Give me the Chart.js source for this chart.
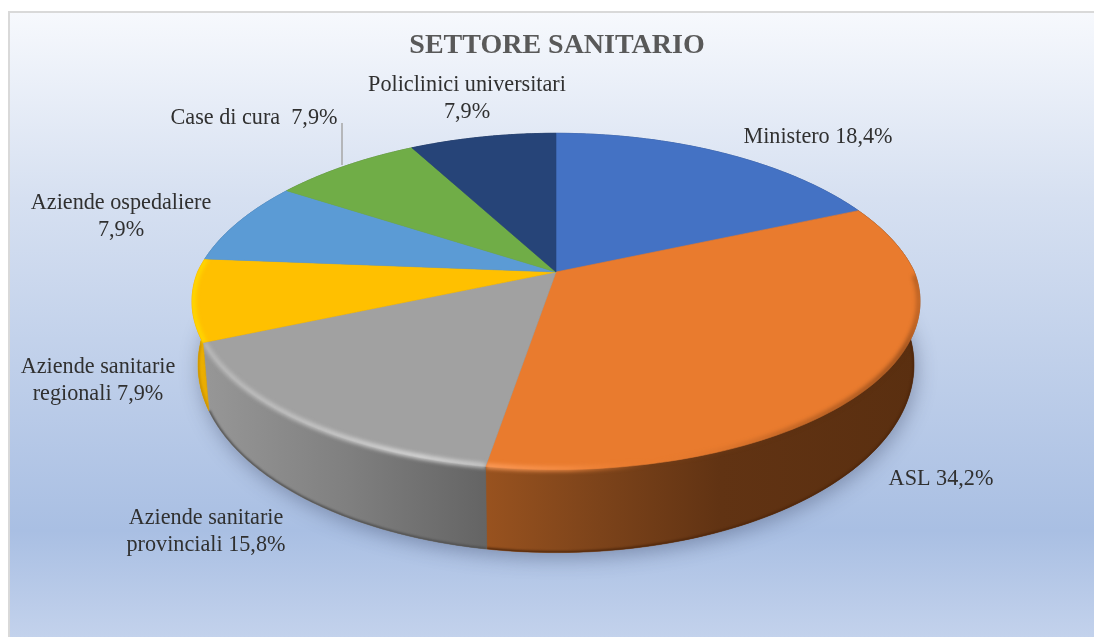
<!DOCTYPE html>
<html lang="it"><head><meta charset="utf-8">
<style>html,body{margin:0;padding:0;background:#fff;overflow:hidden}canvas{display:block}</style>
<script src="https://cdn.jsdelivr.net/npm/chart.js@4"></script>
</head><body><canvas id="c" width="1094" height="637"></canvas>
<script>
// ---- data ----
const categories = ['Ministero','ASL','Aziende sanitarie provinciali','Aziende sanitarie regionali','Aziende ospedaliere','Case di cura','Policlinici universitari'];
const values = [18.4,34.2,15.8,7.9,7.9,7.9,7.9];
const titleText = 'SETTORE SANITARIO';
const labelLines = [
  ['Ministero 18,4%'],
  ['ASL 34,2%'],
  ['Aziende sanitarie','provinciali 15,8%'],
  ['Aziende sanitarie','regionali 7,9%'],
  ['Aziende ospedaliere','7,9%'],
  ['Case di cura  7,9%'],
  ['Policlinici universitari','7,9%']
];
// ---- styles & layout ----
const sliceColors = ['#4472C4','#E97B2E','#A1A1A1','#FFC000','#5B9BD5','#70AD47','#264478'];
const labelAnchors = [[818,143,0],[941,485,0],[206,524,27],[98,373,27],[121,209,27],[254,124,0],[467,91,27]];
const topGeo = {cx:556,cy:272,rx:358.4,ry:163,k:0.175,kb:0.21};
const botGeo = {cx:556,cy:332,rx:352.5,ry:182,k:0.175,kb:0.21};
const wallStops = {
  1:[[487,'#98521f'],[600,'#7c431a'],[720,'#613313'],[920,'#5a2f10']],
  2:[[209,'#969696'],[350,'#7f7f7f'],[487,'#646464']],
  3:[[196,'#f0b400'],[210,'#e6a800']],
  0:[[556,'#2b4a80'],[920,'#2b4a80']],4:[[200,'#3a6a94'],[400,'#3a6a94']],
  5:[[280,'#4a7530'],[560,'#4a7530']],6:[[400,'#182c4e'],[560,'#182c4e']]
};
const bevelStops = {
  1:[[487,'#ffa060'],[570,'#f58d45'],[650,'rgba(236,125,49,0)'],[780,'rgba(90,45,15,.3)'],[905,'rgba(90,45,15,.6)'],[922,'rgba(90,45,15,.3)']],
  2:[[203,'#bcbcbc'],[300,'#c8c8c8'],[420,'#dedede'],[487,'#cccccc']],
  3:[[190,'#ffd900'],[210,'#ffd900']]
};
const bevelStart = {1:0.02};
const bg = [[0,'#f7f9fd'],[0.3,'#d6e0f1'],[0.83,'#a9bfe3'],[1,'#c3d2ec']];

function pt(th,r,g){const u=r*Math.cos(th),v=r*Math.sin(th),w=1-g.k*v,wx=1-(v<0?g.kb:g.k)*v;return [g.cx+g.rx*u/wx,g.cy+g.ry*v/w];}
function arcPts(a,b,r,g,n=90){const p=[];for(let i=0;i<=n;i++)p.push(pt(a+(b-a)*i/n,r,g));return p;}
function trace(ctx,pts,move=true){pts.forEach((q,i)=>{(i===0&&move)?ctx.moveTo(q[0],q[1]):ctx.lineTo(q[0],q[1]);});}
function hGrad(ctx,stops){const x0=stops[0][0],x1=stops[stops.length-1][0];const g=ctx.createLinearGradient(x0,0,x1,0);stops.forEach(s=>g.addColorStop((s[0]-x0)/(x1-x0),s[1]));return g;}
function wallPath(ctx,a,b){trace(ctx,arcPts(a,b,1,topGeo));trace(ctx,arcPts(b,a,1,botGeo),false);ctx.closePath();}
function facePath(ctx,a,b){const c=pt(0,0,topGeo);ctx.moveTo(c[0],c[1]);trace(ctx,arcPts(a,b,1,topGeo),false);ctx.closePath();}

const backdrop = {id:'backdrop',beforeDraw(chart){
  const c=chart.ctx;c.save();
  c.fillStyle='#ffffff';c.fillRect(0,0,1094,637);
  const g=c.createLinearGradient(0,11,0,637);bg.forEach(s=>g.addColorStop(s[0],s[1]));
  c.fillStyle=g;c.fillRect(8,11,1086,626);
  c.fillStyle='#d9d9d9';c.fillRect(8,11,1086,2);c.fillRect(8,11,2,626);
  c.restore();
}};

const pie3d = {id:'pie3d',beforeDatasetsDraw(chart){
  const c=chart.ctx,arcs=chart.getDatasetMeta(0).data;
  c.save();
  c.save();c.shadowColor='rgba(50,60,90,.4)';c.shadowBlur=20;c.shadowOffsetY=5;c.shadowOffsetX=2;
  c.fillStyle='#5a5a5a';c.beginPath();trace(c,arcPts(0,Math.PI*2,1,botGeo,240));c.closePath();c.fill();c.restore();
  arcs.forEach((a,i)=>{c.beginPath();wallPath(c,a.startAngle,a.endAngle);const gr=hGrad(c,wallStops[i]);c.fillStyle=gr;c.strokeStyle=gr;c.lineWidth=.6;c.fill();c.stroke();});
  arcs.forEach((a,i)=>{if(i<1||i>3)return;c.save();c.beginPath();wallPath(c,a.startAngle,a.endAngle);c.clip();
    c.filter='blur(1px)';c.beginPath();trace(c,arcPts(a.startAngle,a.endAngle,1,botGeo));c.lineWidth=3;c.strokeStyle=i===1?'#4e260b':(i===2?'#4f4f4f':'#c99000');c.stroke();c.restore();});
  arcs.forEach((a,i)=>{c.beginPath();facePath(c,a.startAngle,a.endAngle);c.fillStyle=sliceColors[i];c.strokeStyle=sliceColors[i];c.lineWidth=.6;c.fill();c.stroke();});
  arcs.forEach((a,i)=>{if(!bevelStops[i])return;c.save();c.beginPath();facePath(c,a.startAngle,a.endAngle);wallPath(c,a.startAngle,a.endAngle);c.clip();
    const s=Math.max(a.startAngle,bevelStart[i]??a.startAngle);
    c.filter='blur(2px)';c.beginPath();trace(c,arcPts(s,a.endAngle,0.997,topGeo));c.lineWidth=i===3?5:4.5;c.lineCap='butt';c.strokeStyle=hGrad(c,bevelStops[i]);c.stroke();c.restore();});
  c.restore();
  return false;
}};

const dataLabels = {id:'dataLabels',afterDraw(chart){
  const c=chart.ctx;c.save();
  c.strokeStyle='#a6a6a6';c.lineWidth=1.5;c.beginPath();c.moveTo(342,123);c.lineTo(342,165);c.stroke();
  c.font='22.2px "Liberation Serif"';c.fillStyle='#303030';c.textAlign='center';c.textBaseline='alphabetic';
  labelLines.forEach((lines,i)=>{const an=labelAnchors[i];lines.forEach((t,j)=>c.fillText(t,an[0],an[1]+j*an[2]));});
  c.restore();
}};

new Chart(document.getElementById('c'),{
  type:'pie',
  data:{labels:categories,datasets:[{data:values,backgroundColor:sliceColors,borderWidth:0}]},
  plugins:[backdrop,pie3d,dataLabels],
  options:{responsive:false,animation:false,layout:{padding:{left:20,top:14}},
    plugins:{legend:{display:false},tooltip:{enabled:false},
      title:{display:true,text:titleText,fullSize:false,color:'#595959',font:{family:'"Liberation Serif"',size:28,weight:'bold'},padding:{top:15,bottom:8}}}}
});
</script></body></html>
